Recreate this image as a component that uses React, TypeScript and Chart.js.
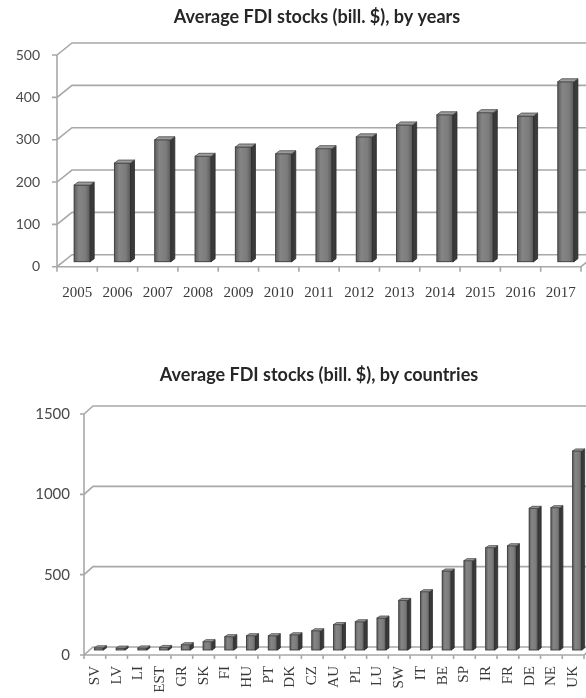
import React, { useEffect, useRef } from 'react';
import { Chart, registerables } from 'chart.js';

Chart.register(...registerables);

const yearLabels = ['2005', '2006', '2007', '2008', '2009', '2010', '2011', '2012', '2013', '2014', '2015', '2016', '2017'];
const yearValues = [181, 233, 288, 249, 271, 255, 267, 295, 323, 347, 352, 344, 425];

const countryLabels = ['SV', 'LV', 'LI', 'EST', 'GR', 'SK', 'FI', 'HU', 'PT', 'DK', 'CZ', 'AU', 'PL', 'LU', 'SW', 'IT', 'BE', 'SP', 'IR', 'FR', 'DE', 'NE', 'UK'];
const countryValues = [14, 12, 13, 16, 33, 52, 83, 89, 89, 95, 120, 158, 176, 199, 309, 363, 492, 556, 637, 649, 882, 886, 1239];

const titleYears = 'Average FDI stocks (bill. $), by years';
const titleCountries = 'Average FDI stocks (bill. $), by countries';

type Cfg = { dx: number; dy: number; sx: number; sy: number; d: number; dd: number; tick: number };

function make3D(cfg: Cfg) {
  return {
    id: 'threeD',
    beforeDatasetsDraw(chart: any) {
      const { ctx, chartArea: a, scales } = chart;
      const y = scales.y;
      const x = scales.x;
      ctx.save();
      ctx.strokeStyle = '#a8a8a8';
      ctx.lineWidth = 1.6;
      y.ticks.forEach((t: any) => {
        const py = y.getPixelForValue(t.value);
        ctx.beginPath();
        ctx.moveTo(a.left - cfg.tick, py);
        ctx.lineTo(a.left, py);
        ctx.lineTo(a.left + cfg.dx, py - cfg.dy);
        ctx.lineTo(chart.width, py - cfg.dy);
        ctx.stroke();
      });
      ctx.beginPath();
      ctx.moveTo(a.left, a.top);
      ctx.lineTo(a.left, a.bottom);
      ctx.lineTo(a.right, a.bottom);
      ctx.lineTo(a.right + cfg.dx, a.bottom - cfg.dy);
      ctx.stroke();
      const n = x.ticks.length;
      const step = (a.right - a.left) / n;
      ctx.beginPath();
      for (let i = 0; i <= n; i++) {
        const px = a.left + i * step;
        ctx.moveTo(px, a.bottom);
        ctx.lineTo(px, a.bottom + cfg.tick);
      }
      ctx.stroke();
      ctx.restore();
      ctx.save();
      ctx.translate(cfg.sx, -cfg.sy);
    },
    afterDatasetsDraw(chart: any) {
      const { ctx } = chart;
      ctx.restore();
      const meta = chart.getDatasetMeta(0);
      ctx.save();
      ctx.translate(cfg.sx, -cfg.sy);
      meta.data.forEach((bar: any) => {
        const { x, y, base, width } = bar.getProps(['x', 'y', 'base', 'width'], true);
        const l = x - width / 2;
        const r = x + width / 2;
        // shaded front face
        const g = ctx.createLinearGradient(l, 0, r, 0);
        g.addColorStop(0, '#5e5e5e');
        g.addColorStop(0.3, '#858585');
        g.addColorStop(0.7, '#7c7c7c');
        g.addColorStop(1, '#585858');
        ctx.fillStyle = g;
        ctx.fillRect(l, y, width, base - y);
        ctx.strokeStyle = '#3e3e3e';
        ctx.lineWidth = 0.9;
        ctx.strokeRect(l, y, width, base - y);
        // side face
        ctx.beginPath();
        ctx.moveTo(r, y);
        ctx.lineTo(r + cfg.d, y - cfg.dd);
        ctx.lineTo(r + cfg.d, base - cfg.dd);
        ctx.lineTo(r, base);
        ctx.closePath();
        ctx.fillStyle = '#3a3a3a';
        ctx.fill();
        ctx.strokeStyle = '#2c2c2c';
        ctx.lineWidth = 0.8;
        ctx.stroke();
        // top face
        ctx.beginPath();
        ctx.moveTo(l, y);
        ctx.lineTo(l + cfg.d, y - cfg.dd);
        ctx.lineTo(r + cfg.d, y - cfg.dd);
        ctx.lineTo(r, y);
        ctx.closePath();
        ctx.fillStyle = '#9c9c9c';
        ctx.fill();
        ctx.strokeStyle = '#4a4a4a';
        ctx.stroke();
      });
      ctx.restore();
    },
  };
}

function BarChart3D(props: {
  labels: string[];
  values: number[];
  title: string;
  top: number;
  width: number;
  height: number;
  yMax: number;
  yStep: number;
  yWidth: number;
  rightWidth: number;
  yPad: number;
  yFont: number;
  xHeight: number;
  xPad: number;
  xRot: number;
  titleTop: number;
  titleBottom: number;
  barPct: number;
  cfg: Cfg;
}) {
  const ref = useRef<HTMLCanvasElement | null>(null);
  useEffect(() => {
    if (!ref.current) return;
    const p = props;
    const chart = new Chart(ref.current, {
      type: 'bar',
      data: {
        labels: p.labels,
        datasets: [
          {
            data: p.values,
            backgroundColor: '#7b7b7b',
            borderColor: '#454545',
            borderWidth: 1,
            barPercentage: p.barPct,
            categoryPercentage: 1,
            clip: false as any,
          },
        ],
      },
      options: {
        responsive: false,
        animation: false,
        layout: { padding: 0 },
        plugins: {
          legend: { display: false },
          tooltip: { enabled: false },
          title: {
            display: true,
            text: p.title,
            color: '#262626',
            font: { family: 'Lato', size: 18, weight: 'bold', lineHeight: 1.2 },
            padding: { top: p.titleTop, bottom: p.titleBottom },
          },
        },
        scales: {
          x: {
            grid: { display: false, drawTicks: false },
            border: { display: false },
            ticks: {
              color: '#3a3a3a',
              font: { family: 'Liberation Serif', size: 15 },
              padding: p.xPad,
              autoSkip: false,
              minRotation: p.xRot,
              maxRotation: p.xRot,
            },
            afterFit: (s: any) => {
              s.height = p.xHeight;
            },
          },
          y: {
            min: 0,
            max: p.yMax,
            grid: { display: false, drawTicks: false },
            border: { display: false },
            ticks: {
              stepSize: p.yStep,
              color: '#4a4a4a',
              font: { family: 'Lato', size: p.yFont },
              padding: p.yPad,
              callback: (v: any) => String(v),
            },
            afterFit: (s: any) => {
              s.width = p.yWidth;
            },
          },
          yRight: {
            axis: 'y',
            position: 'right',
            min: 0,
            max: p.yMax,
            grid: { display: false, drawTicks: false },
            border: { display: false },
            ticks: { display: false },
            afterFit: (s: any) => {
              s.width = p.rightWidth;
            },
          },
        },
      } as any,
      plugins: [make3D(p.cfg)],
    });
    return () => chart.destroy();
  }, []);
  return (
    <canvas
      ref={ref}
      width={props.width}
      height={props.height}
      style={{ position: 'absolute', left: 0, top: props.top, display: 'block' }}
    />
  );
}

export default function App() {
  return (
    <div style={{ position: 'absolute', left: 0, top: 0, width: 586, height: 698, overflow: 'hidden', background: '#ffffff' }}>
      <BarChart3D
        labels={yearLabels}
        values={yearValues}
        title={titleYears}
        top={0}
        width={634}
        height={330}
        yMax={500}
        yStep={100}
        yWidth={57}
        rightWidth={53}
        yPad={17}
        yFont={14}
        xHeight={63.3}
        xPad={17}
        xRot={0}
        titleTop={6.2}
        titleBottom={27.2}
        barPct={0.4}
        cfg={{ dx: 15, dy: 12, sx: 5, sy: 5, d: 4, dd: 3, tick: 5 }}
      />
      <BarChart3D
        labels={countryLabels}
        values={countryValues}
        title={titleCountries}
        top={330}
        width={638}
        height={368}
        yMax={1500}
        yStep={500}
        yWidth={84}
        rightWidth={54}
        yPad={14}
        yFont={15}
        xHeight={43}
        xPad={11}
        xRot={90}
        titleTop={34.2}
        titleBottom={28.2}
        barPct={0.415}
        cfg={{ dx: 9, dy: 8, sx: 4, sy: 5, d: 3, dd: 2, tick: 4 }}
      />
    </div>
  );
}
